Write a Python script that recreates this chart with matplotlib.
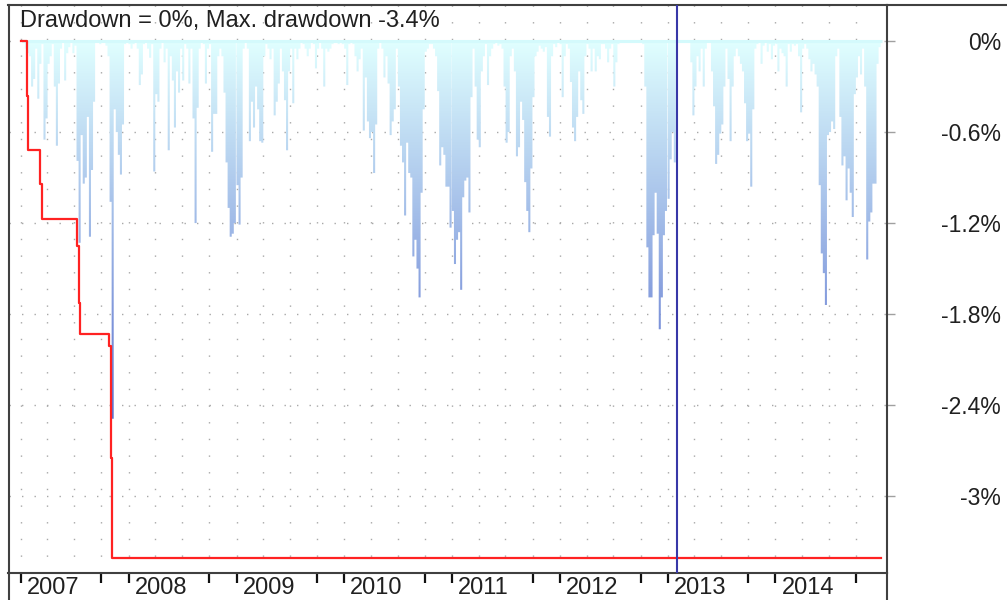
import matplotlib
matplotlib.use('Agg')
import matplotlib.pyplot as plt
import matplotlib.dates as mdates
from matplotlib.path import Path
from matplotlib.patches import PathPatch
from matplotlib.colors import LinearSegmentedColormap
from matplotlib.lines import Line2D
from matplotlib.transforms import ScaledTranslation
import numpy as np
import pandas as pd

plt.rcParams['font.family'] = ['Liberation Sans', 'DejaVu Sans']

# weekly drawdown, in percent, one list per year
years = [2007, 2008, 2009, 2010, 2011, 2012, 2013, 2014]
dd_2007 = [0, 0, -0.05, -0.08, -0.10, -0.30, -0.25, -0.05, -0.38, -0.15,
           -0.02, -0.65, -0.51, -0.15, -0.10, -0.02, -0.30, -0.69, -0.28, -0.05,
           0, -0.26, -0.08, -0.04, 0, -0.08, -0.03, -0.79, -1.33, -0.62,
           -0.94, -0.90, -0.50, -1.29, -0.85, -0.40, 0, 0, -0.02, 0,
           0, -0.03, -0.10, -1.06, -2.49, -0.45, -0.60, -0.75, -0.88, -0.55,
           -0.02, 0]
dd_2008 = [-0.02, -0.05, -0.02, 0, -0.05, -0.29, -0.22, -0.02, 0, -0.05,
           -0.11, -0.02, -0.86, -0.35, -0.40, -0.05, 0, -0.14, -0.05, -0.72,
           -0.10, -0.26, -0.57, -0.20, -0.34, -0.05, -0.26, -0.02, -0.05, -0.28,
           -0.05, -0.51, -1.20, -0.44, -0.05, 0, -0.02, -0.28, -0.05, -0.02,
           -0.73, -0.48, -0.48, -0.10, -0.05, -0.10, -0.34, -0.80, -1.10, -1.29,
           -1.27, -1.20]
dd_2009 = [-0.95, -1.21, -0.90, -0.05, 0, -0.05, -0.66, -0.40, -0.57, -0.30,
           -0.45, -0.66, -0.67, -0.10, -0.02, -0.05, -0.12, -0.05, -0.49, -0.40,
           -0.28, -0.05, -0.20, -0.39, -0.72, -0.20, -0.05, -0.41, -0.05, -0.12,
           -0.05, 0, -0.02, -0.05, -0.10, -0.05, 0, -0.02, -0.18, -0.05,
           0, -0.05, -0.30, -0.05, -0.07, -0.05, -0.02, 0, 0, -0.02,
           0, -0.02]
dd_2010 = [-0.05, -0.29, -0.02, 0, -0.02, -0.10, -0.20, -0.12, -0.05, -0.59,
           -0.24, -0.53, -0.64, -0.60, -0.87, -0.55, -0.05, 0, -0.05, -0.24,
           -0.10, -0.28, -0.62, -0.53, -0.45, -0.05, -0.30, -0.69, -0.80, -1.15,
           -0.67, -0.87, -0.90, -1.42, -1.31, -1.50, -1.69, -1.00, -0.45, -0.07,
           -0.05, -0.02, -0.02, -0.05, -0.10, -0.33, -0.82, -0.70, -0.75, -0.96,
           -0.96, -1.23]
dd_2011 = [-1.12, -1.47, -1.31, -1.26, -1.64, -1.03, -0.92, -0.90, -1.13, -0.37,
           -0.05, -0.30, -0.65, -0.70, -0.20, -0.10, -0.02, -0.29, -0.10, -0.05,
           -0.02, 0, -0.03, -0.02, -0.05, -0.30, -0.67, -0.60, -0.10, -0.05,
           -0.20, -0.76, -0.70, -0.40, -0.52, -0.93, -1.12, -1.26, -0.84, -0.37,
           -0.10, -0.07, -0.03, -0.05, -0.07, -0.04, -0.50, -0.63, -0.10, -0.02,
           -0.04, 0]
dd_2012 = [-0.02, -0.37, -0.10, -0.02, -0.05, -0.27, -0.57, -0.66, -0.50, -0.20,
           -0.39, -0.48, -0.10, -0.02, -0.05, -0.20, -0.05, -0.20, -0.10, -0.12,
           -0.02, -0.02, -0.05, -0.14, -0.05, -0.02, -0.30, -0.14, -0.02, 0,
           0, 0, 0, 0, 0, 0, 0, 0, 0, 0,
           -0.02, -0.30, -1.36, -1.69, -1.69, -1.28, -1.00, -1.27, -1.90, -1.69,
           -1.28, -1.12]
dd_2013 = [-1.04, -0.78, -0.60, -0.80, -0.12, 0, 0, 0, 0, 0,
           0, -0.14, -0.49, -0.30, -0.10, -0.20, -0.05, -0.30, -0.05, 0,
           0, -0.20, -0.43, -0.81, -0.75, -0.61, -0.55, -0.30, -0.05, -0.25,
           -0.66, -0.30, -0.10, -0.05, -0.10, -0.15, -0.20, -0.41, -0.66, -0.61,
           -0.96, -0.45, -0.05, -0.02, 0, -0.15, -0.03, 0, -0.07, -0.02,
           -0.12, -0.03]
dd_2014 = [-0.02, -0.20, -0.05, -0.08, -0.10, -0.30, -0.02, -0.07, -0.02, -0.03,
           -0.02, -0.10, -0.47, -0.05, -0.02, -0.05, -0.12, -0.20, -0.15, -0.22,
           -0.30, -0.95, -1.40, -1.53, -1.74, -0.62, -0.60, -0.53, -0.58, -0.10,
           -0.05, -0.50, -0.82, -0.76, -1.05, -0.84, -1.00, -1.16, -0.35, -0.24,
           -0.10, -0.22, -0.05, -0.30, -1.44, -1.19, -1.13, -0.94, -0.94, -0.15,
           -0.04, 0]

# max drawdown (step line)
max_dd_dates = ['2007-01-01', '2007-01-21', '2007-01-26', '2007-03-08', '2007-03-15',
                '2007-07-09', '2007-07-16', '2007-07-20', '2007-10-25', '2007-11-01',
                '2007-11-07', '2014-12-26']
max_dd_values = [0, -0.36, -0.72, -0.94, -1.17, -1.35, -1.73, -1.93, -2.01, -2.75,
                 -3.41, -3.41]

marker_date = '2013-01-31'
y_ticks = [0, -0.6, -1.2, -1.8, -2.4, -3.0]
y_tick_labels = ['0%', '-0.6%', '-1.2%', '-1.8%', '-2.4%', '-3%']
title = 'Drawdown = 0%, Max. drawdown -3.4%'

weekly = [dd_2007, dd_2008, dd_2009, dd_2010, dd_2011, dd_2012, dd_2013, dd_2014]
dates = []
values = []
for yr, vals in zip(years, weekly):
    start = pd.Timestamp(f'{yr}-01-01')
    for i, v in enumerate(vals):
        dates.append(start + pd.Timedelta(days=7 * i + 3))
        values.append(v)
dates = pd.DatetimeIndex(dates)
values = np.array(values)

W, H = 1007, 600
fig = plt.figure(figsize=(W / 100, H / 100), dpi=100)
ax = fig.add_axes([8.5 / W, 27 / H, (887 - 8.5) / W, (595.5 - 27) / H])

x0, x1 = pd.Timestamp('2006-11-20'), pd.Timestamp('2015-01-14')

# bars only used as a clip shape for the gradient
bars = ax.bar(dates, values, width=7, color='none', edgecolor='none', align='center')
paths = [b.get_path().transformed(b.get_patch_transform()) for b in bars]
clip = PathPatch(Path.make_compound_path(*paths), transform=ax.transData,
                 facecolor='none', edgecolor='none')
ax.add_patch(clip)
cmap = LinearSegmentedColormap.from_list('dd', ['#E0FFFF', '#2C3CBC'])
grad = np.linspace(0, 1, 256).reshape(-1, 1)
im = ax.imshow(grad, cmap=cmap, aspect='auto', origin='upper', zorder=2,
               extent=[mdates.date2num(x0), mdates.date2num(x1), -3.4, 0])
im.set_clip_path(clip)

ax.hlines(0, dates[0], dates[-1], color='#D4FAFC', lw=2.2, zorder=3)
ax.plot(pd.to_datetime(max_dd_dates), max_dd_values, drawstyle='steps-post',
        color='#FF2222', lw=1.6, zorder=4)
ax.axvline(pd.Timestamp(marker_date), color='#3838A8', lw=1.5, zorder=5)

ax.set_xlim(x0, x1)
ax.set_ylim(-3.507, 0.241)

# y axis on the right
ax.set_yticks(y_ticks, y_tick_labels)
ax.yaxis.tick_right()
ax.tick_params(axis='y', length=6, width=1, color='#A0A0A0', pad=76,
               labelsize=16.5, labelcolor='#202020')
for lbl in ax.get_yticklabels():
    lbl.set_ha('right')

# x axis: years plus an October tick
year_ticks = [pd.Timestamp(f'{y}-01-01') for y in years]
oct_ticks = [pd.Timestamp(f'{y}-10-01') for y in years]
quarters = [pd.Timestamp(f'{y}-{m:02d}-01') for y in years for m in (1, 4, 7, 10)]
ax.set_xticks(year_ticks + oct_ticks, [str(y) for y in years] + [''] * len(years))
ax.set_xticks(quarters, minor=True)
ax.xaxis.remove_overlapping_locs = False
ax.tick_params(axis='x', which='major', direction='out', length=7, width=1.6,
               color='#111111', pad=-4, labelsize=17, labelcolor='#202020')
ax.tick_params(axis='x', which='minor', length=0)
for lbl in ax.get_xticklabels():
    lbl.set_ha('left')
    lbl.set_transform(lbl.get_transform() + ScaledTranslation(0.06, 0, fig.dpi_scale_trans))

ax.grid(axis='y', which='major', color='#A8A8A8', linestyle=(0, (1, 8)), linewidth=1.0)
ax.grid(axis='x', which='minor', color='#A8A8A8', linestyle=(0, (1, 11)), linewidth=1.0)
ax.set_axisbelow(True)

for sp in ax.spines.values():
    sp.set_color('#404040')
    sp.set_linewidth(1.5)

# outer frame pieces
fig.add_artist(Line2D([887 / W, 1], [1 - 4.5 / H, 1 - 4.5 / H], color='#404040', lw=1.5))
fig.add_artist(Line2D([8.5 / W, 8.5 / W], [0, 27 / H], color='#404040', lw=1.5))
fig.add_artist(Line2D([887 / W, 887 / W], [0, 27 / H], color='#404040', lw=1.5))

fig.text(20 / W, 1 - 27 / H, title, fontsize=17, ha='left', va='baseline', color='#202020')

fig.savefig('out.png', dpi=100)
